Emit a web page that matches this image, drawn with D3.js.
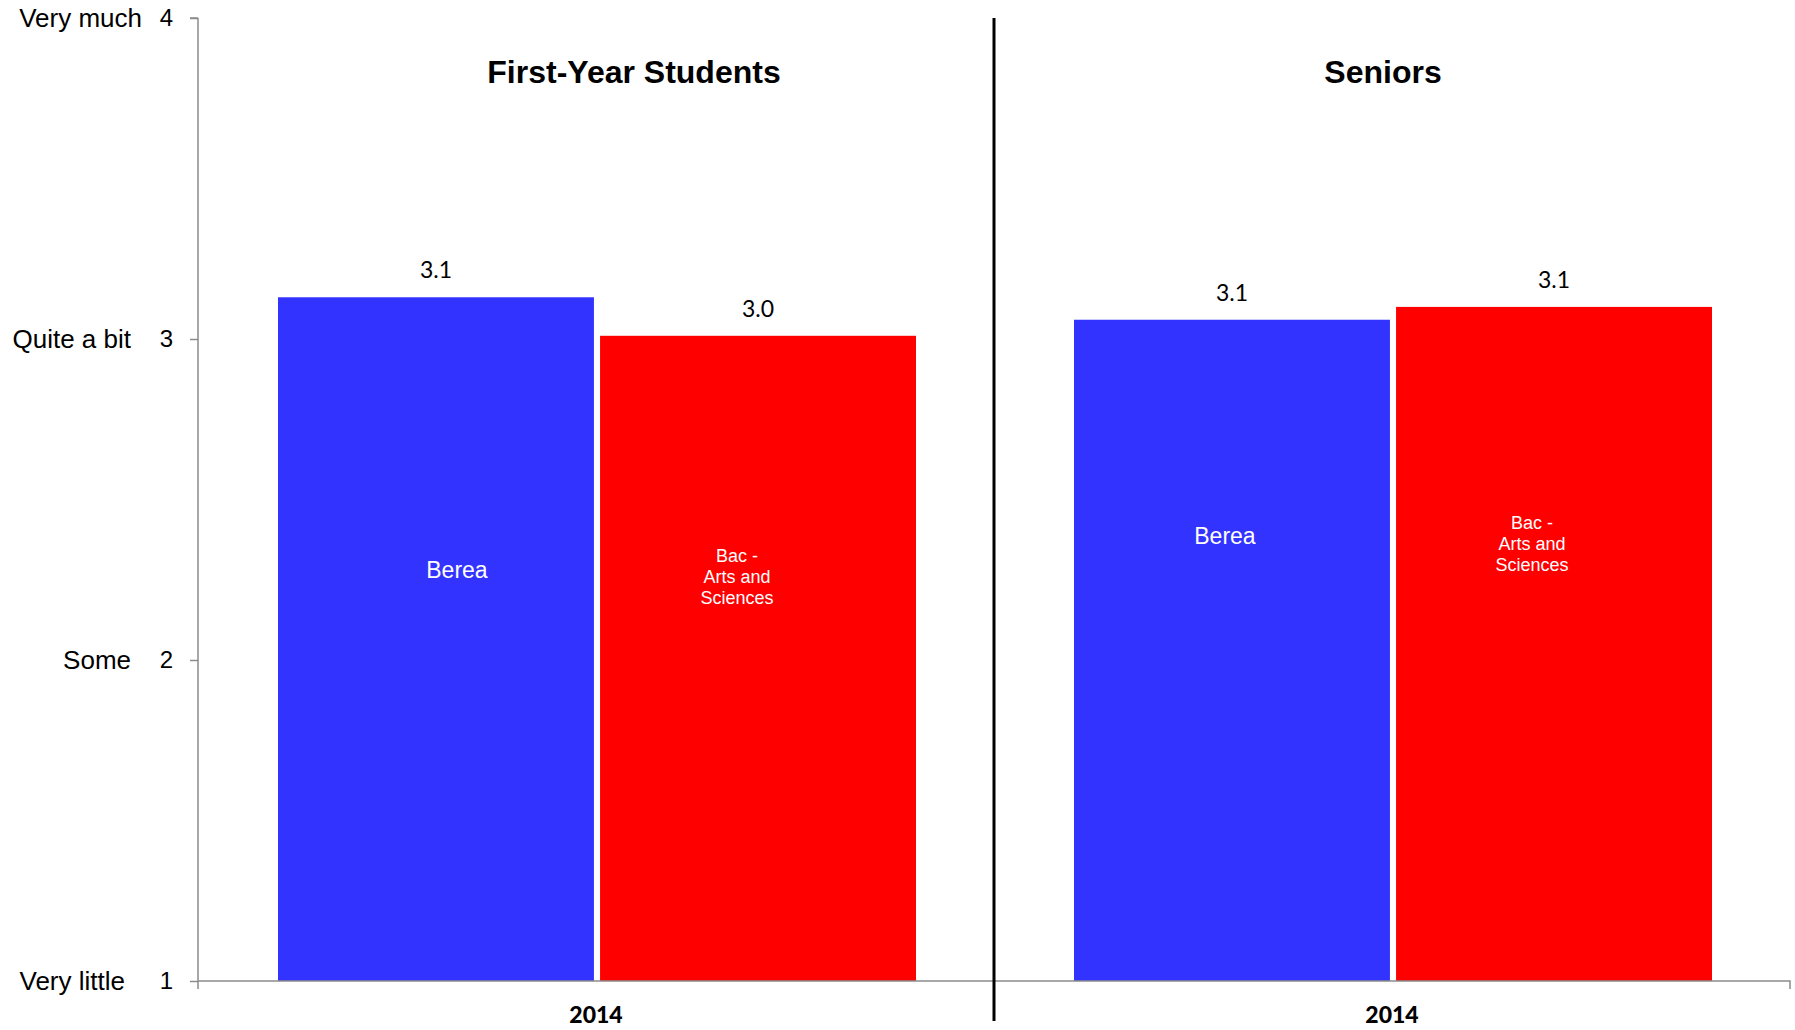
<!DOCTYPE html>
<html><head><meta charset="utf-8">
<script src="https://cdn.jsdelivr.net/npm/d3@7"></script>
<style>body{margin:0;background:#fff}svg{display:block}</style>
</head><body>
<svg id="c" width="1795" height="1030"></svg>
<script>
// ---- data ----
const panels = ["First-Year Students", "Seniors"];
const series = ["Berea", "Bac - Arts and Sciences"];
const seriesLines = [["Berea"], ["Bac -", "Arts and", "Sciences"]];
const firstYearValues = [3.13, 3.01];
const seniorValues = [3.06, 3.10];
const xCategory = "2014";
const yTicks = [1, 2, 3, 4];
const yTickNames = ["Very little", "Some", "Quite a bit", "Very much"];

// ---- layout / style ----
const plotLeft = 198, plotRight = 1790, plotTop = 18, plotBottom = 981;
const colors = ["#3333FF", "#FF0000"];
const tickNameRight = [125, 131, 131, 142];
const titleDx = [38, -9];
const innerLabelY = [[2.28, 2.26], [2.385, 2.363]];
const innerLabelDx = [[21, -21], [-7, -22]];
const innerFont = [23, 18];

const svg = d3.select("#c");
const y = d3.scaleLinear().domain([1, 4]).range([plotBottom, plotTop]);
const xp = d3.scaleBand().domain(panels).range([plotLeft, plotRight]);
const xs = d3.scaleBand().domain(series).range([80, 718]).paddingInner(0.019);
const values = [firstYearValues, seniorValues];

// y axis
const yAxis = d3.axisLeft(y).tickValues(yTicks).tickSize(8).tickFormat(d3.format("d"));
const ga = svg.append("g").attr("transform", `translate(${plotLeft},0)`).call(yAxis);
ga.select(".domain").attr("stroke", "#8c8c8c").attr("stroke-width", 1.5).attr("d", `M0,${plotTop}H-8M0,${plotTop}V${plotBottom + 8}`);
ga.selectAll(".tick line").attr("stroke", "#8c8c8c").attr("stroke-width", 1.5);
ga.selectAll(".tick text").attr("x", -25).attr("font-family", "Liberation Sans, Arial, sans-serif")
  .attr("font-size", 24).attr("fill", "#000");

// tick names
svg.append("g").selectAll("text").data(yTicks).join("text")
  .attr("x", (d, i) => tickNameRight[i]).attr("y", d => y(d)).attr("dy", "0.35em")
  .attr("text-anchor", "end").attr("font-family", "Liberation Sans, Arial, sans-serif")
  .attr("font-size", 26).attr("fill", "#000").text((d, i) => yTickNames[i]);

// bars
panels.forEach((p, pi) => {
  const g = svg.append("g").attr("transform", `translate(${xp(p)},0)`);
  g.selectAll("rect").data(values[pi]).join("rect")
    .attr("x", (d, i) => xs(series[i])).attr("width", xs.bandwidth())
    .attr("y", d => y(d)).attr("height", d => y(1) - y(d))
    .attr("fill", (d, i) => colors[i]);
  g.selectAll("text.v").data(values[pi]).join("text").attr("class", "v")
    .attr("x", (d, i) => xs(series[i]) + xs.bandwidth() / 2).attr("y", d => y(d) - 19)
    .attr("text-anchor", "middle").attr("font-family", "Lato, sans-serif").attr("font-size", 23)
    .attr("fill", "#000").text(d => d.toFixed(1));
  series.forEach((s, si) => {
    const lines = seriesLines[si];
    const cx = xs(s) + xs.bandwidth() / 2 + innerLabelDx[pi][si];
    const cy = y(innerLabelY[pi][si]);
    const lh = 21;
    g.append("text").attr("text-anchor", "middle").attr("fill", "#fff")
      .attr("font-family", "Liberation Sans, Arial, sans-serif").attr("font-size", innerFont[si])
      .selectAll("tspan").data(lines).join("tspan")
      .attr("x", cx).attr("y", (d, i) => cy + (i - (lines.length - 1) / 2) * lh).attr("dy", "0.35em")
      .text(d => d);
  });
  svg.append("text").attr("x", xp(p) + xp.bandwidth() / 2 + titleDx[pi]).attr("y", 72).attr("dy", "0.35em")
    .attr("text-anchor", "middle").attr("font-family", "Liberation Sans, Arial, sans-serif")
    .attr("font-weight", "bold").attr("font-size", 32).attr("fill", "#000").text(p);
  svg.append("text").attr("x", xp(p) + xp.bandwidth() / 2).attr("y", 1015).attr("dy", "0.35em")
    .attr("text-anchor", "middle").attr("font-family", "Lato, sans-serif").attr("font-weight", "900")
    .attr("font-size", 23).attr("fill", "#000").text(xCategory);
});

// x axis line
svg.append("path").attr("d", `M${plotLeft},${plotBottom}H${plotRight}V${plotBottom + 8}`)
  .attr("fill", "none").attr("stroke", "#8c8c8c").attr("stroke-width", 1.5);

// divider
svg.append("line").attr("x1", xp(panels[1])).attr("x2", xp(panels[1])).attr("y1", plotTop).attr("y2", 1021)
  .attr("stroke", "#000").attr("stroke-width", 3);
</script>
</body></html>
